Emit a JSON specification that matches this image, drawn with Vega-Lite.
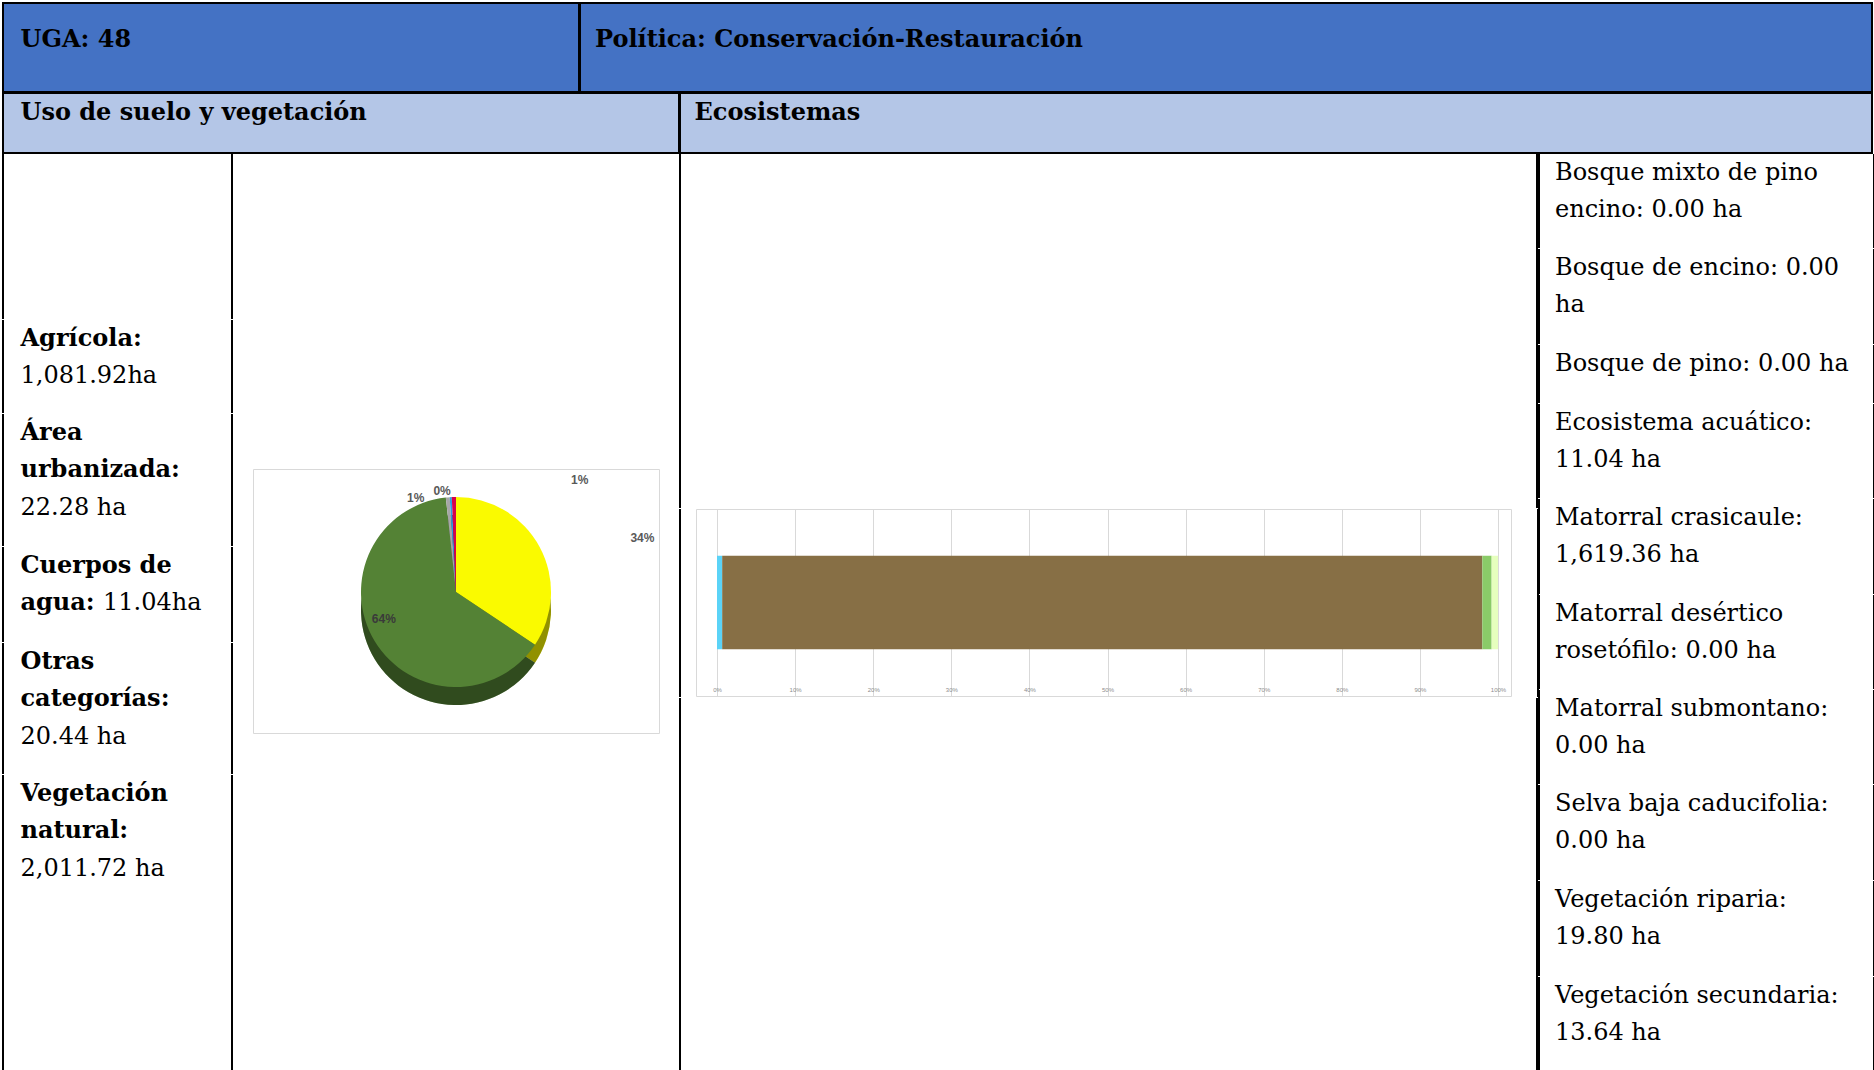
{
  "$schema": "https://vega.github.io/schema/vega-lite/v6.json",
  "background": "white",
  "padding": {"left": 2, "top": 2, "right": 0, "bottom": 0},
  "spacing": -5,
  "resolve": {"scale": {"color": "independent"}},
  "config": {
    "view": {"stroke": "transparent", "strokeWidth": 2},
    "concat": {"spacing": -5},
    "text": {"font": "DejaVu Serif", "fontSize": 24, "color": "#000000", "clip": true}
  },
  "datasets": {
    "encabezado": [
      {"uga": "UGA: 48", "politica": "Política: Conservación-Restauración", "uso": "Uso de suelo y vegetación", "eco": "Ecosistemas"}
    ],
    "suelo": [
      {"categoria": "Agrícola", "etiqueta": "Agrícola:", "valor": "1,081.92ha", "ha": 1081.92, "pct": "34%", "orden": 1},
      {"categoria": "Vegetación natural", "etiqueta": "Vegetación\nnatural:", "valor": "2,011.72 ha", "ha": 2011.72, "pct": "64%", "orden": 2},
      {"categoria": "Otras categorías", "etiqueta": "Otras\ncategorías:", "valor": "20.44 ha", "ha": 20.44, "pct": "1%", "orden": 3},
      {"categoria": "Cuerpos de agua", "etiqueta": "Cuerpos de\nagua:", "valor": "11.04ha", "ha": 11.04, "pct": "0%", "orden": 4},
      {"categoria": "Área urbanizada", "etiqueta": "Área\nurbanizada:", "valor": "22.28 ha", "ha": 22.28, "pct": "1%", "orden": 5}
    ],
    "ecosistemas": [
      {"orden": 1, "ecosistema": "Bosque mixto de pino encino", "ha": 0, "texto": "Bosque  mixto de  pino\nencino: 0.00 ha"},
      {"orden": 2, "ecosistema": "Bosque de encino", "ha": 0, "texto": "Bosque de encino: 0.00\nha"},
      {"orden": 3, "ecosistema": "Bosque de pino", "ha": 0, "texto": "Bosque de pino: 0.00 ha"},
      {"orden": 4, "ecosistema": "Ecosistema acuático", "ha": 11.04, "texto": "Ecosistema acuático:\n11.04 ha"},
      {"orden": 5, "ecosistema": "Matorral crasicaule", "ha": 1619.36, "texto": "Matorral crasicaule:\n1,619.36 ha"},
      {"orden": 6, "ecosistema": "Matorral desértico rosetófilo", "ha": 0, "texto": "Matorral desértico\nrosetófilo: 0.00 ha"},
      {"orden": 7, "ecosistema": "Matorral submontano", "ha": 0, "texto": "Matorral submontano:\n0.00 ha"},
      {"orden": 8, "ecosistema": "Selva baja caducifolia", "ha": 0, "texto": "Selva baja caducifolia:\n0.00 ha"},
      {"orden": 9, "ecosistema": "Vegetación riparia", "ha": 19.8, "texto": "Vegetación riparia:\n19.80 ha"},
      {"orden": 10, "ecosistema": "Vegetación secundaria", "ha": 13.64, "texto": "Vegetación secundaria:\n13.64 ha"}
    ]
  },
  "vconcat": [
    {
      "spacing": -5,
      "hconcat": [
        {
          "width": 576, "height": 89,
          "view": {"fill": "#4472C4", "stroke": "#000000", "strokeWidth": 2},
          "data": {"name": "encabezado"},
          "mark": {"type": "text", "align": "left", "baseline": "middle", "fontWeight": "bold", "dx": 17.5, "dy": 36.5},
          "encoding": {
            "x": {"datum": 0, "type": "quantitative", "scale": {"domain": [0, 1]}, "axis": null},
            "y": {"datum": 1, "type": "quantitative", "scale": {"domain": [0, 1]}, "axis": null},
            "text": {"field": "uga"}
          }
        },
        {
          "width": 1292, "height": 89,
          "view": {"fill": "#4472C4", "stroke": "#000000", "strokeWidth": 2},
          "data": {"name": "encabezado"},
          "mark": {"type": "text", "align": "left", "baseline": "middle", "fontWeight": "bold", "dx": 15, "dy": 36.5},
          "encoding": {
            "x": {"datum": 0, "type": "quantitative", "scale": {"domain": [0, 1]}, "axis": null},
            "y": {"datum": 1, "type": "quantitative", "scale": {"domain": [0, 1]}, "axis": null},
            "text": {"field": "politica"}
          }
        }
      ]
    },
    {
      "spacing": -5,
      "hconcat": [
        {
          "width": 676, "height": 60,
          "view": {"fill": "#B4C6E7", "stroke": "#000000", "strokeWidth": 2},
          "data": {"name": "encabezado"},
          "mark": {"type": "text", "align": "left", "baseline": "middle", "fontWeight": "bold", "dx": 17.5, "dy": 19.5},
          "encoding": {
            "x": {"datum": 0, "type": "quantitative", "scale": {"domain": [0, 1]}, "axis": null},
            "y": {"datum": 1, "type": "quantitative", "scale": {"domain": [0, 1]}, "axis": null},
            "text": {"field": "uso"}
          }
        },
        {
          "width": 1192, "height": 60,
          "view": {"fill": "#B4C6E7", "stroke": "#000000", "strokeWidth": 2},
          "data": {"name": "encabezado"},
          "mark": {"type": "text", "align": "left", "baseline": "middle", "fontWeight": "bold", "dx": 14.5, "dy": 19.5},
          "encoding": {
            "x": {"datum": 0, "type": "quantitative", "scale": {"domain": [0, 1]}, "axis": null},
            "y": {"datum": 1, "type": "quantitative", "scale": {"domain": [0, 1]}, "axis": null},
            "text": {"field": "eco"}
          }
        }
      ]
    },
    {
      "spacing": -5,
      "resolve": {"scale": {"color": "independent"}},
      "hconcat": [
        {
          "spacing": -5,
          "vconcat": [
            {
              "width": 229, "height": 165,
              "view": {"stroke": "#000000", "strokeWidth": 2, "strokeDash": [0, 229, 165, 229, 165]},
              "data": {"values": []},
              "mark": "point"
            },
            {
              "width": 229, "height": 93,
              "view": {"stroke": "#000000", "strokeWidth": 2, "strokeDash": [0, 229, 93, 229, 93]},
              "data": {"name": "suelo"},
              "transform": [{"filter": "datum.categoria === 'Agrícola'"}],
              "encoding": {
                "x": {"datum": 0, "type": "quantitative", "scale": {"domain": [0, 1]}, "axis": null},
                "y": {"datum": 1, "type": "quantitative", "scale": {"domain": [0, 1]}, "axis": null}
              },
              "layer": [
                {"mark": {"type": "text", "align": "left", "baseline": "line-top", "lineBreak": "\n", "lineHeight": 37.3, "fontWeight": "bold", "dx": 17.5}, "encoding": {"text": {"field": "etiqueta"}}},
                {"mark": {"type": "text", "align": "left", "baseline": "line-top", "lineHeight": 37.3, "dx": 17.5, "dy": 37.3}, "encoding": {"text": {"field": "valor"}}}
              ]
            },
            {
              "width": 229, "height": 132,
              "view": {"stroke": "#000000", "strokeWidth": 2, "strokeDash": [0, 229, 132, 229, 132]},
              "data": {"name": "suelo"},
              "transform": [{"filter": "datum.categoria === 'Área urbanizada'"}],
              "encoding": {
                "x": {"datum": 0, "type": "quantitative", "scale": {"domain": [0, 1]}, "axis": null},
                "y": {"datum": 1, "type": "quantitative", "scale": {"domain": [0, 1]}, "axis": null}
              },
              "layer": [
                {"mark": {"type": "text", "align": "left", "baseline": "line-top", "lineBreak": "\n", "lineHeight": 37.3, "fontWeight": "bold", "dx": 17.5}, "encoding": {"text": {"field": "etiqueta"}}},
                {"mark": {"type": "text", "align": "left", "baseline": "line-top", "lineHeight": 37.3, "dx": 17.5, "dy": 74.6}, "encoding": {"text": {"field": "valor"}}}
              ]
            },
            {
              "width": 229, "height": 95,
              "view": {"stroke": "#000000", "strokeWidth": 2, "strokeDash": [0, 229, 95, 229, 95]},
              "data": {"name": "suelo"},
              "transform": [{"filter": "datum.categoria === 'Cuerpos de agua'"}],
              "encoding": {
                "x": {"datum": 0, "type": "quantitative", "scale": {"domain": [0, 1]}, "axis": null},
                "y": {"datum": 1, "type": "quantitative", "scale": {"domain": [0, 1]}, "axis": null}
              },
              "layer": [
                {"mark": {"type": "text", "align": "left", "baseline": "line-top", "lineBreak": "\n", "lineHeight": 37.3, "fontWeight": "bold", "dx": 17.5}, "encoding": {"text": {"field": "etiqueta"}}},
                {"mark": {"type": "text", "align": "left", "baseline": "line-top", "lineHeight": 37.3, "dx": 100, "dy": 37.3}, "encoding": {"text": {"field": "valor"}}}
              ]
            },
            {
              "width": 229, "height": 131,
              "view": {"stroke": "#000000", "strokeWidth": 2, "strokeDash": [0, 229, 131, 229, 131]},
              "data": {"name": "suelo"},
              "transform": [{"filter": "datum.categoria === 'Otras categorías'"}],
              "encoding": {
                "x": {"datum": 0, "type": "quantitative", "scale": {"domain": [0, 1]}, "axis": null},
                "y": {"datum": 1, "type": "quantitative", "scale": {"domain": [0, 1]}, "axis": null}
              },
              "layer": [
                {"mark": {"type": "text", "align": "left", "baseline": "line-top", "lineBreak": "\n", "lineHeight": 37.3, "fontWeight": "bold", "dx": 17.5}, "encoding": {"text": {"field": "etiqueta"}}},
                {"mark": {"type": "text", "align": "left", "baseline": "line-top", "lineHeight": 37.3, "dx": 17.5, "dy": 74.6}, "encoding": {"text": {"field": "valor"}}}
              ]
            },
            {
              "width": 229, "height": 300,
              "view": {"stroke": "#000000", "strokeWidth": 2, "strokeDash": [0, 229, 300, 229, 300]},
              "data": {"name": "suelo"},
              "transform": [{"filter": "datum.categoria === 'Vegetación natural'"}],
              "encoding": {
                "x": {"datum": 0, "type": "quantitative", "scale": {"domain": [0, 1]}, "axis": null},
                "y": {"datum": 1, "type": "quantitative", "scale": {"domain": [0, 1]}, "axis": null}
              },
              "layer": [
                {"mark": {"type": "text", "align": "left", "baseline": "line-top", "lineBreak": "\n", "lineHeight": 37.3, "fontWeight": "bold", "dx": 17.5}, "encoding": {"text": {"field": "etiqueta"}}},
                {"mark": {"type": "text", "align": "left", "baseline": "line-top", "lineHeight": 37.3, "dx": 17.5, "dy": 74.6}, "encoding": {"text": {"field": "valor"}}}
              ]
            }
          ]
        },
        {
          "spacing": -5,
          "vconcat": [
            {"width": 447, "height": 315, "data": {"values": []}, "mark": "point"},
            {
              "spacing": -5,
              "hconcat": [
                {"width": 20, "height": 265, "data": {"values": []}, "mark": "point"},
                {
                  "width": 406, "height": 264,
                  "view": {"stroke": "#D9D9D9", "strokeWidth": 1},
                  "data": {"name": "suelo"},
                  "encoding": {
                    "theta": {"field": "ha", "type": "quantitative", "stack": true},
                    "order": {"field": "orden", "type": "quantitative"},
                    "color": {
                      "field": "categoria", "type": "nominal", "legend": null,
                      "scale": {
                        "domain": ["Agrícola", "Vegetación natural", "Otras categorías", "Cuerpos de agua", "Área urbanizada"],
                        "range": ["#FAFA00", "#548235", "#A6A6A6", "#2E9BE0", "#D6004C"]
                      }
                    }
                  },
                  "layer": [
                    {"mark": {"type": "arc", "outerRadius": 95, "yOffset": 9, "clip": true}},
                    {"mark": {"type": "arc", "outerRadius": 95, "yOffset": 9, "fillOpacity": 0.42, "clip": true}, "encoding": {"color": {"value": "#000000"}}},
                    {"mark": {"type": "arc", "outerRadius": 95, "yOffset": -9, "clip": true}},
                    {
                      "mark": {"type": "text", "radius": 68, "yOffset": -9, "dx": -14, "dy": -8, "font": "Liberation Sans", "fontSize": 12, "fontWeight": "bold"},
                      "encoding": {"color": {"value": "#3A3A3A"}, "text": {"condition": {"test": "datum.categoria === 'Vegetación natural'", "field": "pct"}, "value": ""}}
                    },
                    {
                      "mark": {"type": "text", "radius": 115, "yOffset": -9, "dx": 85, "font": "Liberation Sans", "fontSize": 12, "fontWeight": "bold"},
                      "encoding": {"color": {"value": "#595959"}, "text": {"condition": {"test": "datum.categoria === 'Agrícola'", "field": "pct"}, "value": ""}}
                    },
                    {
                      "mark": {"type": "text", "radius": 107, "yOffset": -9, "dx": -31, "dy": 13, "font": "Liberation Sans", "fontSize": 12, "fontWeight": "bold"},
                      "encoding": {"color": {"value": "#595959"}, "text": {"condition": {"test": "datum.categoria === 'Otras categorías'", "field": "pct"}, "value": ""}}
                    },
                    {
                      "mark": {"type": "text", "radius": 107, "yOffset": -9, "dx": -8, "dy": 6, "font": "Liberation Sans", "fontSize": 12, "fontWeight": "bold"},
                      "encoding": {"color": {"value": "#595959"}, "text": {"condition": {"test": "datum.categoria === 'Cuerpos de agua'", "field": "pct"}, "value": ""}}
                    },
                    {
                      "mark": {"type": "text", "radius": 60, "yOffset": -9, "dx": 125, "dy": -52, "font": "Liberation Sans", "fontSize": 12, "fontWeight": "bold"},
                      "encoding": {"color": {"value": "#595959"}, "text": {"condition": {"test": "datum.categoria === 'Área urbanizada'", "field": "pct"}, "value": ""}}
                    }
                  ]
                },
                {"width": 20, "height": 265, "data": {"values": []}, "mark": "point"}
              ]
            },
            {"width": 447, "height": 340, "data": {"values": []}, "mark": "point"}
          ]
        },
        {
          "spacing": -5,
          "vconcat": [
            {
              "width": 857, "height": 354,
              "view": {"stroke": "#000000", "strokeWidth": 2, "strokeDash": [0, 857, 354, 857, 354]},
              "data": {"values": []}, "mark": "point"
            },
            {
              "spacing": -5,
              "hconcat": [
                {
                  "width": 15, "height": 188,
                  "view": {"stroke": "#000000", "strokeWidth": 2, "strokeDash": [0, 218, 188]},
                  "data": {"values": []}, "mark": "point"
                },
                {
                  "width": 815, "height": 187,
                  "view": {"stroke": "#D9D9D9", "strokeWidth": 1},
                  "data": {"name": "ecosistemas"},
                  "mark": {"type": "bar", "clip": true},
                  "encoding": {
                    "x": {
                      "field": "ha", "type": "quantitative", "stack": "normalize",
                      "scale": {"domain": [-0.0269, 1.0166], "nice": false, "zero": false},
                      "axis": {
                        "values": [0, 0.1, 0.2, 0.3, 0.4, 0.5, 0.6, 0.7, 0.8, 0.9, 1],
                        "format": ".0%", "title": null, "grid": true, "gridColor": "#D9D9D9", "gridWidth": 1,
                        "domain": false, "ticks": false, "tickSize": 0, "labelPadding": -10, "labelFlush": false,
                        "labelFont": "Liberation Sans", "labelFontSize": 6, "labelColor": "#8C8C8C"
                      }
                    },
                    "y": {"datum": "UGA 48", "type": "nominal", "scale": {"paddingInner": 0, "paddingOuter": 0.5}, "axis": null},
                    "order": {"field": "orden", "type": "quantitative"},
                    "color": {
                      "field": "ecosistema", "type": "nominal", "legend": null,
                      "scale": {
                        "domain": ["Bosque mixto de pino encino", "Bosque de encino", "Bosque de pino", "Ecosistema acuático", "Matorral crasicaule", "Matorral desértico rosetófilo", "Matorral submontano", "Selva baja caducifolia", "Vegetación riparia", "Vegetación secundaria"],
                        "range": ["#1F6B3A", "#3E8E41", "#2D5E2A", "#5BD3F7", "#876F45", "#C9A66B", "#A0855B", "#B5D99C", "#8ACB68", "#E6FFBE"]
                      }
                    }
                  }
                },
                {
                  "width": 26, "height": 188,
                  "view": {"stroke": "#000000", "strokeWidth": 2, "strokeDash": [0, 26, 188, 214]},
                  "data": {"values": []}, "mark": "point"
                }
              ]
            },
            {
              "width": 857, "height": 380,
              "view": {"stroke": "#000000", "strokeWidth": 2, "strokeDash": [0, 857, 380, 857, 380]},
              "data": {"values": []}, "mark": "point"
            }
          ]
        },
        {
          "spacing": -5,
          "vconcat": [
            {
              "width": 335, "height": 94,
              "view": {"stroke": "#000000", "strokeWidth": 2, "strokeDash": [0, 335, 94, 335, 94]},
              "data": {"name": "ecosistemas"}, "transform": [{"filter": "datum.orden === 1"}],
              "mark": {"type": "text", "align": "left", "baseline": "line-top", "lineBreak": "\n", "lineHeight": 37.3, "dx": 16},
              "encoding": {
                "x": {"datum": 0, "type": "quantitative", "scale": {"domain": [0, 1]}, "axis": null},
                "y": {"datum": 1, "type": "quantitative", "scale": {"domain": [0, 1]}, "axis": null},
                "text": {"field": "texto"}
              }
            },
            {
              "width": 335, "height": 95,
              "view": {"stroke": "#000000", "strokeWidth": 2, "strokeDash": [0, 335, 95, 335, 95]},
              "data": {"name": "ecosistemas"}, "transform": [{"filter": "datum.orden === 2"}],
              "mark": {"type": "text", "align": "left", "baseline": "line-top", "lineBreak": "\n", "lineHeight": 37.3, "dx": 16},
              "encoding": {
                "x": {"datum": 0, "type": "quantitative", "scale": {"domain": [0, 1]}, "axis": null},
                "y": {"datum": 1, "type": "quantitative", "scale": {"domain": [0, 1]}, "axis": null},
                "text": {"field": "texto"}
              }
            },
            {
              "width": 335, "height": 58,
              "view": {"stroke": "#000000", "strokeWidth": 2, "strokeDash": [0, 335, 58, 335, 58]},
              "data": {"name": "ecosistemas"}, "transform": [{"filter": "datum.orden === 3"}],
              "mark": {"type": "text", "align": "left", "baseline": "line-top", "lineBreak": "\n", "lineHeight": 37.3, "dx": 16},
              "encoding": {
                "x": {"datum": 0, "type": "quantitative", "scale": {"domain": [0, 1]}, "axis": null},
                "y": {"datum": 1, "type": "quantitative", "scale": {"domain": [0, 1]}, "axis": null},
                "text": {"field": "texto"}
              }
            },
            {
              "width": 335, "height": 94,
              "view": {"stroke": "#000000", "strokeWidth": 2, "strokeDash": [0, 335, 94, 335, 94]},
              "data": {"name": "ecosistemas"}, "transform": [{"filter": "datum.orden === 4"}],
              "mark": {"type": "text", "align": "left", "baseline": "line-top", "lineBreak": "\n", "lineHeight": 37.3, "dx": 16},
              "encoding": {
                "x": {"datum": 0, "type": "quantitative", "scale": {"domain": [0, 1]}, "axis": null},
                "y": {"datum": 1, "type": "quantitative", "scale": {"domain": [0, 1]}, "axis": null},
                "text": {"field": "texto"}
              }
            },
            {
              "width": 335, "height": 95,
              "view": {"stroke": "#000000", "strokeWidth": 2, "strokeDash": [0, 335, 95, 335, 95]},
              "data": {"name": "ecosistemas"}, "transform": [{"filter": "datum.orden === 5"}],
              "mark": {"type": "text", "align": "left", "baseline": "line-top", "lineBreak": "\n", "lineHeight": 37.3, "dx": 16},
              "encoding": {
                "x": {"datum": 0, "type": "quantitative", "scale": {"domain": [0, 1]}, "axis": null},
                "y": {"datum": 1, "type": "quantitative", "scale": {"domain": [0, 1]}, "axis": null},
                "text": {"field": "texto"}
              }
            },
            {
              "width": 335, "height": 94,
              "view": {"stroke": "#000000", "strokeWidth": 2, "strokeDash": [0, 335, 94, 335, 94]},
              "data": {"name": "ecosistemas"}, "transform": [{"filter": "datum.orden === 6"}],
              "mark": {"type": "text", "align": "left", "baseline": "line-top", "lineBreak": "\n", "lineHeight": 37.3, "dx": 16},
              "encoding": {
                "x": {"datum": 0, "type": "quantitative", "scale": {"domain": [0, 1]}, "axis": null},
                "y": {"datum": 1, "type": "quantitative", "scale": {"domain": [0, 1]}, "axis": null},
                "text": {"field": "texto"}
              }
            },
            {
              "width": 335, "height": 94,
              "view": {"stroke": "#000000", "strokeWidth": 2, "strokeDash": [0, 335, 94, 335, 94]},
              "data": {"name": "ecosistemas"}, "transform": [{"filter": "datum.orden === 7"}],
              "mark": {"type": "text", "align": "left", "baseline": "line-top", "lineBreak": "\n", "lineHeight": 37.3, "dx": 16},
              "encoding": {
                "x": {"datum": 0, "type": "quantitative", "scale": {"domain": [0, 1]}, "axis": null},
                "y": {"datum": 1, "type": "quantitative", "scale": {"domain": [0, 1]}, "axis": null},
                "text": {"field": "texto"}
              }
            },
            {
              "width": 335, "height": 95,
              "view": {"stroke": "#000000", "strokeWidth": 2, "strokeDash": [0, 335, 95, 335, 95]},
              "data": {"name": "ecosistemas"}, "transform": [{"filter": "datum.orden === 8"}],
              "mark": {"type": "text", "align": "left", "baseline": "line-top", "lineBreak": "\n", "lineHeight": 37.3, "dx": 16},
              "encoding": {
                "x": {"datum": 0, "type": "quantitative", "scale": {"domain": [0, 1]}, "axis": null},
                "y": {"datum": 1, "type": "quantitative", "scale": {"domain": [0, 1]}, "axis": null},
                "text": {"field": "texto"}
              }
            },
            {
              "width": 335, "height": 95,
              "view": {"stroke": "#000000", "strokeWidth": 2, "strokeDash": [0, 335, 95, 335, 95]},
              "data": {"name": "ecosistemas"}, "transform": [{"filter": "datum.orden === 9"}],
              "mark": {"type": "text", "align": "left", "baseline": "line-top", "lineBreak": "\n", "lineHeight": 37.3, "dx": 16},
              "encoding": {
                "x": {"datum": 0, "type": "quantitative", "scale": {"domain": [0, 1]}, "axis": null},
                "y": {"datum": 1, "type": "quantitative", "scale": {"domain": [0, 1]}, "axis": null},
                "text": {"field": "texto"}
              }
            },
            {
              "width": 335, "height": 100,
              "view": {"stroke": "#000000", "strokeWidth": 2, "strokeDash": [0, 335, 100, 335, 100]},
              "data": {"name": "ecosistemas"}, "transform": [{"filter": "datum.orden === 10"}],
              "mark": {"type": "text", "align": "left", "baseline": "line-top", "lineBreak": "\n", "lineHeight": 37.3, "dx": 16},
              "encoding": {
                "x": {"datum": 0, "type": "quantitative", "scale": {"domain": [0, 1]}, "axis": null},
                "y": {"datum": 1, "type": "quantitative", "scale": {"domain": [0, 1]}, "axis": null},
                "text": {"field": "texto"}
              }
            }
          ]
        }
      ]
    }
  ]
}
